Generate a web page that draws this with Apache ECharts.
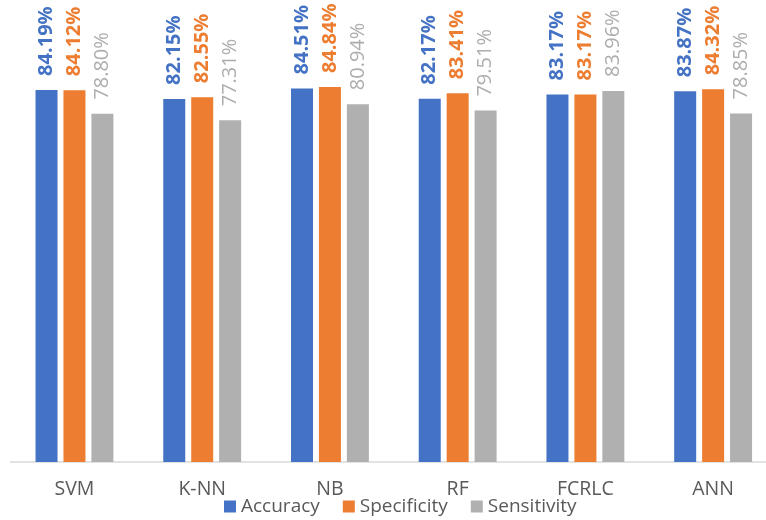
<!DOCTYPE html>
<html>
<head>
<meta charset="utf-8">
<script src="https://cdn.jsdelivr.net/npm/echarts@6/dist/echarts.min.js"></script>
<style>
  html, body { margin: 0; padding: 0; background: #fff; overflow: hidden; }
  #chart { width: 780px; height: 520px; }
</style>
</head>
<body>
<div id="chart"></div>
<script>
// Classifier comparison: accuracy, specificity, sensitivity (%)
const models = ['SVM', 'K-NN', 'NB', 'RF', 'FCRLC', 'ANN'];
const accuracy = [84.19, 82.15, 84.51, 82.17, 83.17, 83.87];
const specificity = [84.12, 82.55, 84.84, 83.41, 83.17, 84.32];
const sensitivity = [78.80, 77.31, 80.94, 79.51, 83.96, 78.85];

const FONT = '"Open Sans", "Noto Sans", sans-serif';

function makeSeries(name, data, color, labelColor, bold) {
  return {
    name: name,
    type: 'bar',
    data: data,
    barWidth: 22,
    barGap: '27%',
    itemStyle: { color: color },
    label: {
      show: true,
      position: 'top',
      rotate: 90,
      align: 'left',
      verticalAlign: 'middle',
      distance: 14,
      color: labelColor,
      fontFamily: FONT,
      fontSize: 20,
      fontWeight: bold ? 'bold' : 'normal',
      formatter: p => p.value.toFixed(2) + '%'
    }
  };
}

const chart = echarts.init(document.getElementById('chart'));
chart.setOption({
  animation: false,
  textStyle: { fontFamily: FONT },
  grid: { left: 10.6, right: 3, top: 20, bottom: 58, containLabel: false },
  legend: {
    bottom: -1,
    left: 219,
    itemWidth: 12,
    itemHeight: 12,
    itemGap: 23,
    icon: 'rect',
    textStyle: { fontFamily: FONT, fontSize: 19, color: '#595959' },
    data: ['Accuracy', 'Specificity', 'Sensitivity']
  },
  xAxis: {
    type: 'category',
    data: models,
    axisLine: { lineStyle: { color: '#D9D9D9', width: 1.5 } },
    axisTick: { show: false },
    axisLabel: { color: '#595959', fontSize: 19.5, fontFamily: FONT, margin: 17 }
  },
  yAxis: {
    type: 'value',
    min: 0,
    max: 100,
    show: false,
    splitLine: { show: false }
  },
  series: [
    makeSeries('Accuracy', accuracy, '#4472C4', '#4472C4', true),
    makeSeries('Specificity', specificity, '#ED7D31', '#ED7D31', true),
    makeSeries('Sensitivity', sensitivity, '#B0B0B0', '#ADADAD', false)
  ]
});
</script>
</body>
</html>
